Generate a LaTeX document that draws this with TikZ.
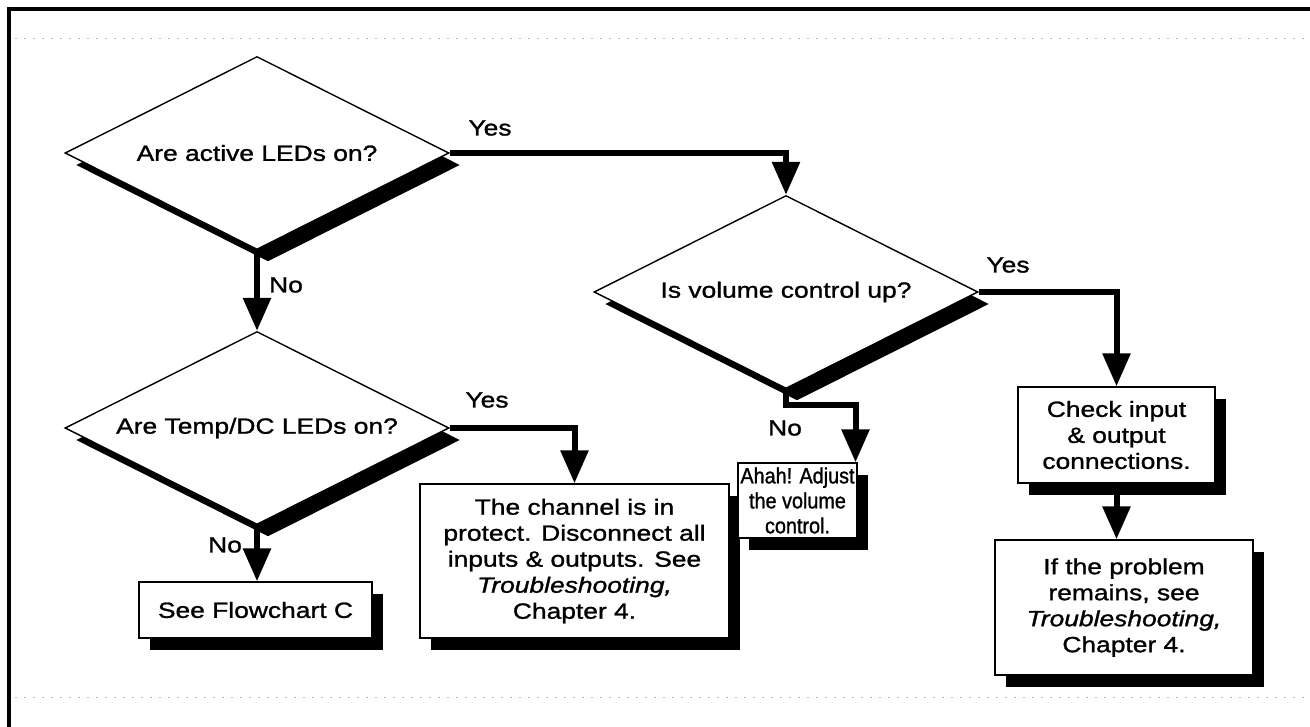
\documentclass[tikz,border=0pt]{standalone}
\usepackage{fontspec}
\setmainfont{Liberation Sans}[FakeStretch=1.2,FakeBold=1.2]
\newfontfamily\narrowfont{Liberation Sans}[FakeStretch=0.9,FakeBold=1.2]
\usetikzlibrary{shapes.geometric,arrows.meta,shadows}
\begin{document}
\begin{tikzpicture}[x=1pt,y=-1pt,
  every node/.style={font=\fontsize{22}{26}\selectfont},
  shadowed/.style={general shadow={fill=black,shadow xshift=11pt,shadow yshift=-12pt}},
  decision/.style={shape=diamond,shape aspect=2,draw,line width=1.4pt,fill=white,inner sep=0pt,
     minimum width=384pt,minimum height=193pt,shadowed},
  actionbox/.style={shape=rectangle,draw,line width=1.4pt,fill=white,inner sep=2pt,
     align=center,shadowed},
  arr/.style={line width=6pt,-{Triangle[width=27pt,length=33pt]}},
  lbl/.style={inner sep=0pt},
  scan/.style={gray!55,line width=1pt,dash pattern=on 2pt off 7pt}
]
\useasboundingbox (0,0) rectangle (1310,727);
\fill[white] (0,0) rectangle (1310,727);
% frame
\draw[line width=4pt] (9,727) -- (9,9.5) -- (1310,9.5);
\draw[scan] (15,39) -- (1310,39);
\draw[scan] (15,697) -- (1310,697);

% decisions
\node[decision] (d1) at (257,153) {Are active LEDs on?};
\node[decision] (d2) at (786,292) {Is volume control up?};
\node[decision] (d3) at (257,428) {Are Temp/DC LEDs on?};

% boxes
\node[actionbox,minimum width=233pt,minimum height=56pt] (see) at (255.5,610) {See Flowchart C};
\node[actionbox,minimum width=309pt,minimum height=154pt] (chan) at (574.5,561)
  {The channel is in\\protect. Disconnect all\\inputs \& outputs. See\\\textit{Troubleshooting,}\\Chapter 4.};
\node[actionbox,minimum width=197pt,minimum height=96pt] (check) at (1116.5,435)
  {Check input\\\& output\\connections.};
\node[actionbox,minimum width=258pt,minimum height=135pt] (prob) at (1124,607.5)
  {If the problem\\remains, see\\\textit{Troubleshooting,}\\Chapter 4.};
\node[actionbox,minimum width=119pt,minimum height=75pt,inner sep=0pt,
  font=\narrowfont\fontsize{22}{25}\selectfont] (ahah) at (797.5,500.5)
  {Ahah! Adjust\\the volume\\control.};

% connectors
\draw[arr] (d1.east) -| (d2.north);
\draw[arr] (d1.south) -- (d3.north);
\draw[arr] (d3.east) -| (chan.north);
\draw[arr] (d3.south) -- (d3.south |- see.north);
\draw[arr] (d2.east) -| (check.north);
\coordinate (d2turn) at ([yshift=-16pt]d2.south);
\coordinate (ahahin) at ([xshift=58pt]ahah.north);
\draw[arr] (d2.south) -- (d2turn) -| (ahahin);
\draw[arr] (check.south) -- (check.south |- prob.north);

% labels
\node[lbl] (y1) at (490,128) {Yes};
\node[lbl] (n1) at (286,285) {No};
\node[lbl] (y3) at (487,400) {Yes};
\node[lbl] (n3) at (225,545) {No};
\node[lbl] (y2) at (1008,265) {Yes};
\node[lbl] (n2) at (785,428) {No};
\end{tikzpicture}
\end{document}
